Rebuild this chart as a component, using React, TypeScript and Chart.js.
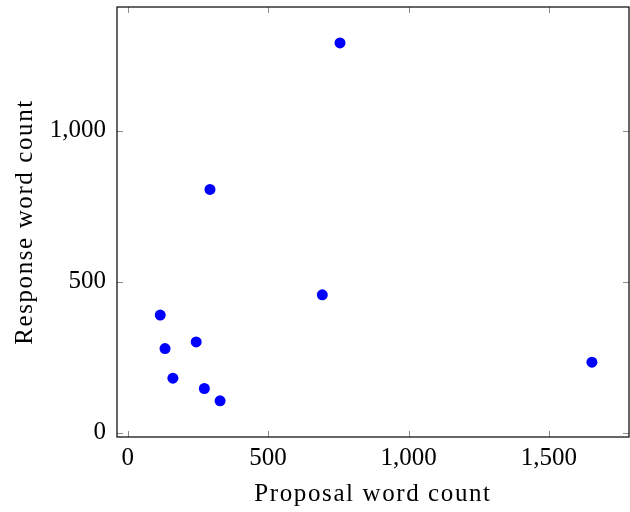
import React, { useEffect, useRef } from "react";
import { Chart, registerables } from "chart.js";

Chart.register(...registerables);

const proposalWords = [756, 293, 693, 116, 133, 244, 161, 273, 329, 1653];
const responseWords = [1290, 805, 456, 389, 278, 300, 180, 146, 105, 233];
const xTicks = [0, 500, 1000, 1500];
const yTicks = [0, 500, 1000];
const xTitle = "Proposal word count";
const yTitle = "Response word count";

const FONT = "'Liberation Serif', 'Times New Roman', serif";

const framePlugin = {
  id: "frame",
  afterDraw(chart: any) {
    const { ctx, chartArea } = chart;
    const { left, right, top, bottom } = chartArea;
    const xs = chart.scales.x;
    const ys = chart.scales.y;
    ctx.save();
    ctx.strokeStyle = "#8c8c8c";
    ctx.lineWidth = 1;
    const tl = 6;
    ctx.beginPath();
    for (const v of xTicks) {
      const px = Math.round(xs.getPixelForValue(v)) + 0.5;
      ctx.moveTo(px, bottom);
      ctx.lineTo(px, bottom - tl);
      ctx.moveTo(px, top);
      ctx.lineTo(px, top + tl);
    }
    for (const v of yTicks) {
      const py = Math.round(ys.getPixelForValue(v)) + 0.5;
      ctx.moveTo(left, py);
      ctx.lineTo(left + tl, py);
      ctx.moveTo(right, py);
      ctx.lineTo(right - tl, py);
    }
    ctx.stroke();
    ctx.strokeStyle = "#000";
    ctx.lineWidth = 1.2;
    ctx.strokeRect(left, top, right - left, bottom - top);
    ctx.restore();
  },
};

function spacedTitle(s: any) {
  if (s._spaced) return;
  s._spaced = true;
  const orig = s.drawTitle.bind(s);
  s.drawTitle = function () {
    const ctx = s.ctx;
    const prev = ctx.letterSpacing;
    ctx.letterSpacing = "1.6px";
    orig();
    ctx.letterSpacing = prev || "0px";
  };
}

export default function App() {
  const ref = useRef<HTMLCanvasElement | null>(null);
  useEffect(() => {
    if (!ref.current) return;
    const chart = new Chart(ref.current, {
      type: "scatter",
      data: {
        datasets: [
          {
            data: proposalWords.map((x, i) => ({ x, y: responseWords[i] })),
            backgroundColor: "#0000ff",
            borderWidth: 0,
            pointRadius: 5.5,
          },
        ],
      },
      options: {
        animation: false,
        responsive: true,
        maintainAspectRatio: false,
        layout: { autoPadding: false, padding: { top: 7, right: 1, left: 0, bottom: 0 } },
        plugins: { legend: { display: false }, tooltip: { enabled: false } },
        scales: {
          x: {
            type: "linear",
            min: -38,
            max: 1785,
            afterBuildTicks: (s: any) => {
              s.ticks = xTicks.map((v) => ({ value: v }));
            },
            afterFit: (s: any) => {
              s.height = 75;
              s.paddingLeft = 0;
              s.paddingRight = 0;
              s.paddingTop = 0;
              s.paddingBottom = 0;
              spacedTitle(s);
            },
            grid: { drawOnChartArea: false, drawTicks: false },
            border: { display: false },
            ticks: {
              color: "#000",
              padding: 6,
              font: { family: FONT, size: 25 },
              maxRotation: 0,
            },
            title: {
              display: true,
              text: xTitle,
              color: "#000",
              font: { family: FONT, size: 25 },
              padding: { top: 0, bottom: 2.5 },
            },
          },
          y: {
            type: "linear",
            min: -14.6,
            max: 1409,
            afterBuildTicks: (s: any) => {
              s.ticks = yTicks.map((v) => ({ value: v }));
            },
            afterFit: (s: any) => {
              s.width = 117;
              s.paddingLeft = 0;
              s.paddingRight = 0;
              s.paddingTop = 0;
              s.paddingBottom = 0;
              spacedTitle(s);
            },
            grid: { drawOnChartArea: false, drawTicks: false },
            border: { display: false },
            ticks: {
              color: "#000",
              padding: 11,
              font: { family: FONT, size: 25 },
            },
            title: {
              display: true,
              text: yTitle,
              color: "#000",
              font: { family: FONT, size: 25 },
              padding: { top: 10, bottom: 0 },
            },
          },
        },
      },
      plugins: [framePlugin],
    });
    return () => chart.destroy();
  }, []);
  return (
    <div style={{ position: "absolute", left: 0, top: 0, width: 630, height: 512 }}>
      <canvas ref={ref} />
    </div>
  );
}
